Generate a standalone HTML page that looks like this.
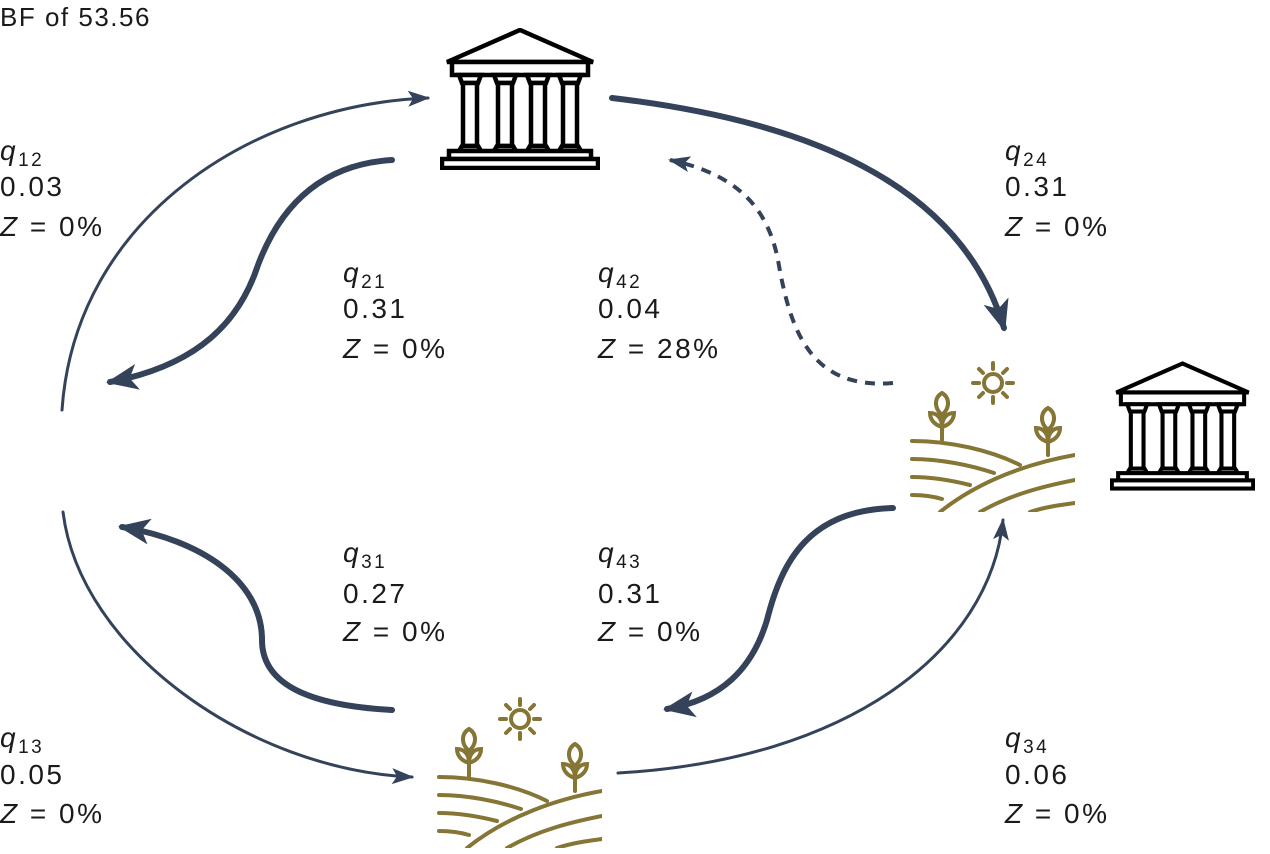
<!DOCTYPE html>
<html><head><meta charset="utf-8"><style>
html,body{margin:0;padding:0;background:#fff;}
svg{display:block;}
text{font-family:"Liberation Sans",sans-serif;font-size:28px;fill:#1a1a1a;letter-spacing:2.5px;}
</style></head><body>
<svg width="1270" height="854" viewBox="0 0 1270 854" xmlns="http://www.w3.org/2000/svg">
<defs>
<marker id="ah" markerUnits="userSpaceOnUse" markerWidth="34" markerHeight="28" refX="28" refY="13" orient="auto" viewBox="0 0 34 26">
<path d="M0,0 L32,13 L0,26 L8,13 z" fill="#34425a"/>
</marker>
<marker id="ahs" markerUnits="userSpaceOnUse" markerWidth="24" markerHeight="18" refX="20" refY="8" orient="auto" viewBox="0 0 24 16">
<path d="M0,0 L22,8 L0,16 L5,8 z" fill="#34425a"/>
</marker>
<symbol id="temple" viewBox="0 0 160 142">
<g fill="#fff" stroke="#000" stroke-width="4.5" stroke-linejoin="miter">
<polygon points="7,34 80,2 153,34"/>
<rect x="12" y="34" width="136" height="13"/>
<g id="col">
<path d="M19,47 h22 l-3,8 h-16 z"/>
<rect x="23" y="55" width="14" height="63"/>
<path d="M22,118 h16 l3,5 h-22 z"/>
</g>
<use href="#col" x="35"/><use href="#col" x="68"/><use href="#col" x="100"/>
<rect x="9" y="123" width="142" height="8"/>
<rect x="2" y="131" width="156" height="9"/>
</g>
</symbol>
<symbol id="farm" viewBox="0 0 165 157">
<g fill="none" stroke="#857636" stroke-width="4" stroke-linecap="round">
<circle cx="83" cy="28" r="9"/>
<path d="M83,8v6 M83,42v6 M63,28h6 M97,28h6 M69,14l4,4 M97,14l-4,4 M69,42l4,-4 M97,42l-4,-4"/>
<path d="M32,85 V60 M32,60 c-9,-8 -7,-18 0,-22 c7,4 9,14 0,22 M32,72 c-7,-2 -12,-7 -12,-14 c7,0 12,5 12,14 M32,72 c7,-2 12,-7 12,-14 c-7,0 -12,5 -12,14"/>
<path d="M138,100 V75 M138,75 c-9,-8 -7,-18 0,-22 c7,4 9,14 0,22 M138,87 c-7,-2 -12,-7 -12,-14 c7,0 12,5 12,14 M138,87 c7,-2 12,-7 12,-14 c-7,0 -12,5 -12,14"/>
<path d="M2,86 C40,86 80,95 110,110"/>
<path d="M2,104 C30,104 60,110 84,118"/>
<path d="M2,122 C20,122 40,125 60,130"/>
<path d="M2,140 C10,140 22,141 32,144"/>
<path d="M30,157 C70,125 120,108 165,100"/>
<path d="M70,157 C100,140 130,132 165,125"/>
<path d="M120,157 C135,152 150,150 165,148"/>
</g>
</symbol>
</defs>

<text x="0" y="26" style="font-size:26px;letter-spacing:1.5px">BF of 53.56</text>

<use href="#temple" x="440" y="28" width="160" height="142"/>
<use href="#temple" x="1110" y="355" width="145" height="142"/>
<use href="#farm" x="910" y="355" width="165" height="157"/>
<use href="#farm" x="437" y="691" width="165" height="157"/>

<g fill="none" stroke="#34425a" stroke-linecap="round">
<path d="M62,410 C75,220 250,105 428,98" stroke-width="3" marker-end="url(#ahs)"/>
<path d="M392,160 C310,165 275,220 258,265 C240,320 200,365 110,382" stroke-width="6" marker-end="url(#ah)"/>
<path d="M612,98 C800,120 960,180 1004,328" stroke-width="6" marker-end="url(#ah)"/>
<path d="M893,383 C810,390 790,330 778,260 C768,210 740,175 670,160" stroke-width="4" stroke-dasharray="10,8" stroke-linecap="butt" marker-end="url(#ahs)"/>
<path d="M63,512 C80,650 250,770 412,777" stroke-width="3" marker-end="url(#ahs)"/>
<path d="M392,710 C300,705 262,680 262,640 C262,580 200,540 122,527" stroke-width="6" marker-end="url(#ah)"/>
<path d="M893,508 C810,510 782,560 767,620 C752,670 720,700 667,709" stroke-width="6" marker-end="url(#ah)"/>
<path d="M618,773 C850,760 990,650 1003,520" stroke-width="3" marker-end="url(#ahs)"/>
</g>

<g>
<text x="0" y="160"><tspan font-style="italic">q</tspan><tspan font-size="19" dy="6">12</tspan></text>
<text x="0" y="196">0.03</text>
<text x="0" y="236"><tspan font-style="italic">Z</tspan> = 0%</text>

<text x="1005" y="160"><tspan font-style="italic">q</tspan><tspan font-size="19" dy="6">24</tspan></text>
<text x="1005" y="196">0.31</text>
<text x="1005" y="236"><tspan font-style="italic">Z</tspan> = 0%</text>

<text x="343" y="282"><tspan font-style="italic">q</tspan><tspan font-size="19" dy="6">21</tspan></text>
<text x="343" y="318">0.31</text>
<text x="343" y="358"><tspan font-style="italic">Z</tspan> = 0%</text>

<text x="598" y="282"><tspan font-style="italic">q</tspan><tspan font-size="19" dy="6">42</tspan></text>
<text x="598" y="318">0.04</text>
<text x="598" y="358"><tspan font-style="italic">Z</tspan> = 28%</text>

<text x="343" y="562"><tspan font-style="italic">q</tspan><tspan font-size="19" dy="6">31</tspan></text>
<text x="343" y="603">0.27</text>
<text x="343" y="641"><tspan font-style="italic">Z</tspan> = 0%</text>

<text x="598" y="562"><tspan font-style="italic">q</tspan><tspan font-size="19" dy="6">43</tspan></text>
<text x="598" y="603">0.31</text>
<text x="598" y="641"><tspan font-style="italic">Z</tspan> = 0%</text>

<text x="0" y="747"><tspan font-style="italic">q</tspan><tspan font-size="19" dy="6">13</tspan></text>
<text x="0" y="784">0.05</text>
<text x="0" y="823"><tspan font-style="italic">Z</tspan> = 0%</text>

<text x="1005" y="747"><tspan font-style="italic">q</tspan><tspan font-size="19" dy="6">34</tspan></text>
<text x="1005" y="784">0.06</text>
<text x="1005" y="823"><tspan font-style="italic">Z</tspan> = 0%</text>
</g>
</svg>
</body></html>
